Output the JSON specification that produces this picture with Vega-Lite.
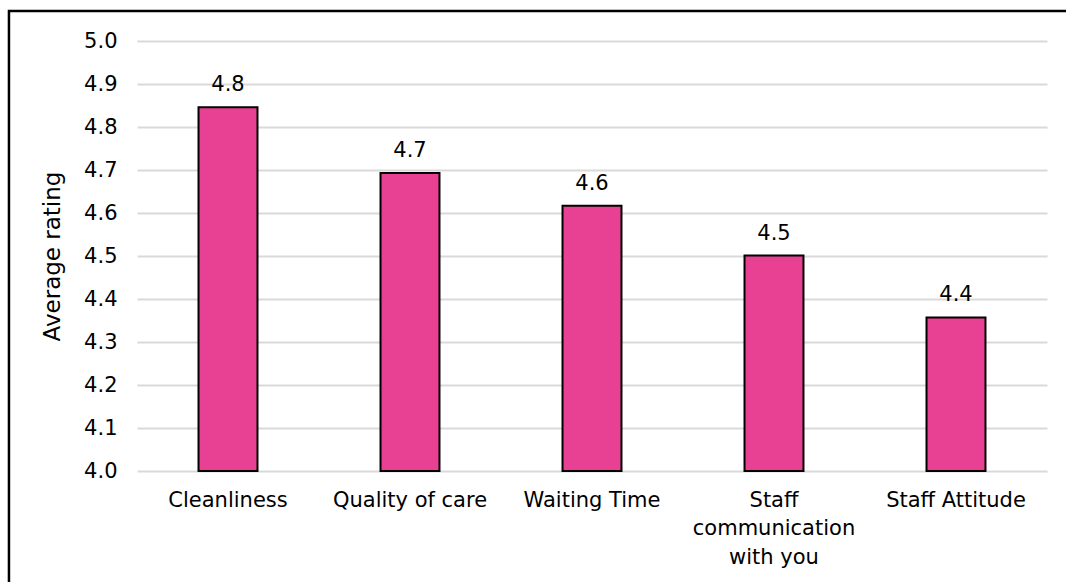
{
  "$schema": "https://vega.github.io/schema/vega-lite/v6.json",
  "width": 910,
  "height": 430,
  "autosize": "none",
  "padding": {"left": 137, "top": 41, "right": 19, "bottom": 111},
  "background": "white",
  "config": {"view": {"stroke": null}, "font": "DejaVu Sans"},
  "data": {
    "values": [
      {"aspect": "Cleanliness", "rating": 4.846},
      {"aspect": "Quality of care", "rating": 4.693},
      {"aspect": "Waiting Time", "rating": 4.617},
      {"aspect": "Staff communication with you", "rating": 4.501},
      {"aspect": "Staff Attitude", "rating": 4.357}
    ]
  },
  "layer": [
    {
      "layer": [
        {
          "mark": {"type": "bar", "fill": "#E84093", "stroke": "black", "strokeWidth": 2},
          "encoding": {
            "x": {
              "field": "aspect", "type": "nominal", "sort": null,
              "scale": {"paddingInner": 0.676, "paddingOuter": 0.338},
              "axis": {
                "title": null, "labelAngle": 0, "domain": false, "ticks": false,
                "labelFont": "DejaVu Sans", "labelFontSize": 21, "labelColor": "black",
                "labelPadding": 18, "labelLineHeight": 28.5, "labelLimit": 300,
                "labelExpr": "datum.label == 'Staff communication with you' ? ['Staff', 'communication', 'with you'] : datum.label"
              }
            },
            "y": {
              "field": "rating", "type": "quantitative",
              "scale": {"domain": [4, 5], "zero": false, "nice": false},
              "axis": {
                "title": "Average rating",
                "values": [4, 4.1, 4.2, 4.3, 4.4, 4.5, 4.6, 4.7, 4.8, 4.9, 5],
                "format": ".1f", "domain": false, "ticks": false,
                "gridColor": "#D9D9D9", "gridWidth": 2,
                "labelFont": "DejaVu Sans", "labelFontSize": 21, "labelColor": "black", "labelPadding": 20,
                "titleFont": "DejaVu Sans", "titleFontSize": 23, "titleFontWeight": "normal", "titleColor": "black", "titlePadding": 19
              }
            },
            "y2": {"datum": 4}
          }
        },
        {
          "mark": {"type": "text", "dy": -16, "baseline": "alphabetic", "fontSize": 21, "font": "DejaVu Sans", "color": "black"},
          "encoding": {
            "x": {"field": "aspect", "type": "nominal", "sort": null},
            "y": {"field": "rating", "type": "quantitative"},
            "text": {"field": "rating", "type": "quantitative", "format": ".1f"}
          }
        }
      ]
    },
    {
      "data": {"values": [{"left": -0.1407, "right": 1.2, "top": 1.0698, "bottom": -0.5}]},
      "mark": {"type": "rect", "fillOpacity": 0, "stroke": "black", "strokeWidth": 2.5, "clip": false},
      "encoding": {
        "x": {"field": "left", "type": "quantitative", "scale": {"domain": [0, 1], "nice": false, "zero": false}, "axis": null},
        "x2": {"field": "right"},
        "y": {"field": "top", "type": "quantitative", "scale": {"domain": [0, 1], "nice": false, "zero": false}, "axis": null},
        "y2": {"field": "bottom"}
      }
    }
  ],
  "resolve": {"scale": {"x": "independent", "y": "independent"}}
}
